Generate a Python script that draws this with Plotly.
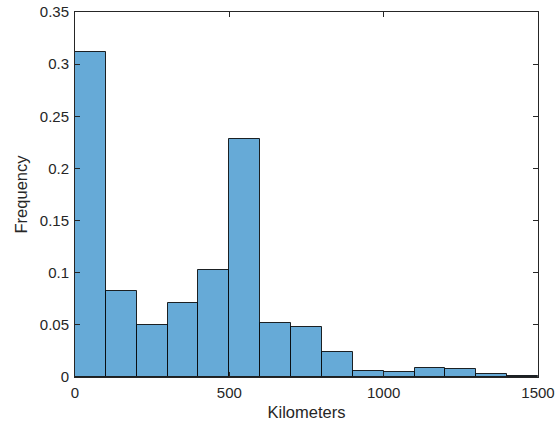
import plotly.graph_objects as go

# Histogram bin edges (km) and normalized counts per bin
bin_edges = [0, 100, 200, 300, 400, 500, 600, 700, 800, 900, 1000, 1100, 1200, 1300, 1400, 1500]
frequency = [0.312, 0.082, 0.050, 0.071, 0.103, 0.228, 0.052, 0.048, 0.024,
             0.006, 0.005, 0.0085, 0.0073, 0.0028, 0.001]

x_ticks = [0, 500, 1000, 1500]
y_ticks = [0, 0.05, 0.1, 0.15, 0.2, 0.25, 0.3, 0.35]
y_tick_text = ["0", "0.05", "0.1", "0.15", "0.2", "0.25", "0.3", "0.35"]

centers = [(a + b) / 2 for a, b in zip(bin_edges[:-1], bin_edges[1:])]
widths = [b - a for a, b in zip(bin_edges[:-1], bin_edges[1:])]

fig = go.Figure(go.Bar(
    x=centers,
    y=frequency,
    width=widths,
    marker=dict(color="#66AAD7", line=dict(color="rgba(0,0,0,0.85)", width=1)),
    hoverinfo="x+y",
))

axis_style = dict(
    showline=True, linecolor="#262626", linewidth=1, mirror="ticks",
    ticks="inside", ticklen=5, tickcolor="#262626", showgrid=False, zeroline=False,
    automargin=False,
    tickfont=dict(family="Liberation Sans, Arial, sans-serif", size=15, color="#262626"),
    title_font=dict(family="Liberation Sans, Arial, sans-serif", size=16.5, color="#262626"),
)

fig.update_layout(
    width=556, height=427,
    margin=dict(l=75, r=18, t=12, b=50),
    paper_bgcolor="white", plot_bgcolor="white",
    showlegend=False, bargap=0,
    xaxis=dict(range=[bin_edges[0], bin_edges[-1]], tickvals=x_ticks, ticklabelstandoff=2,
               title=dict(text="Kilometers", standoff=6), **axis_style),
    yaxis=dict(range=[0, 0.35], tickvals=y_ticks, ticktext=y_tick_text, ticklabelstandoff=2,
               title=dict(text="Frequency", standoff=8), **axis_style),
)

fig.write_html("out.html")
